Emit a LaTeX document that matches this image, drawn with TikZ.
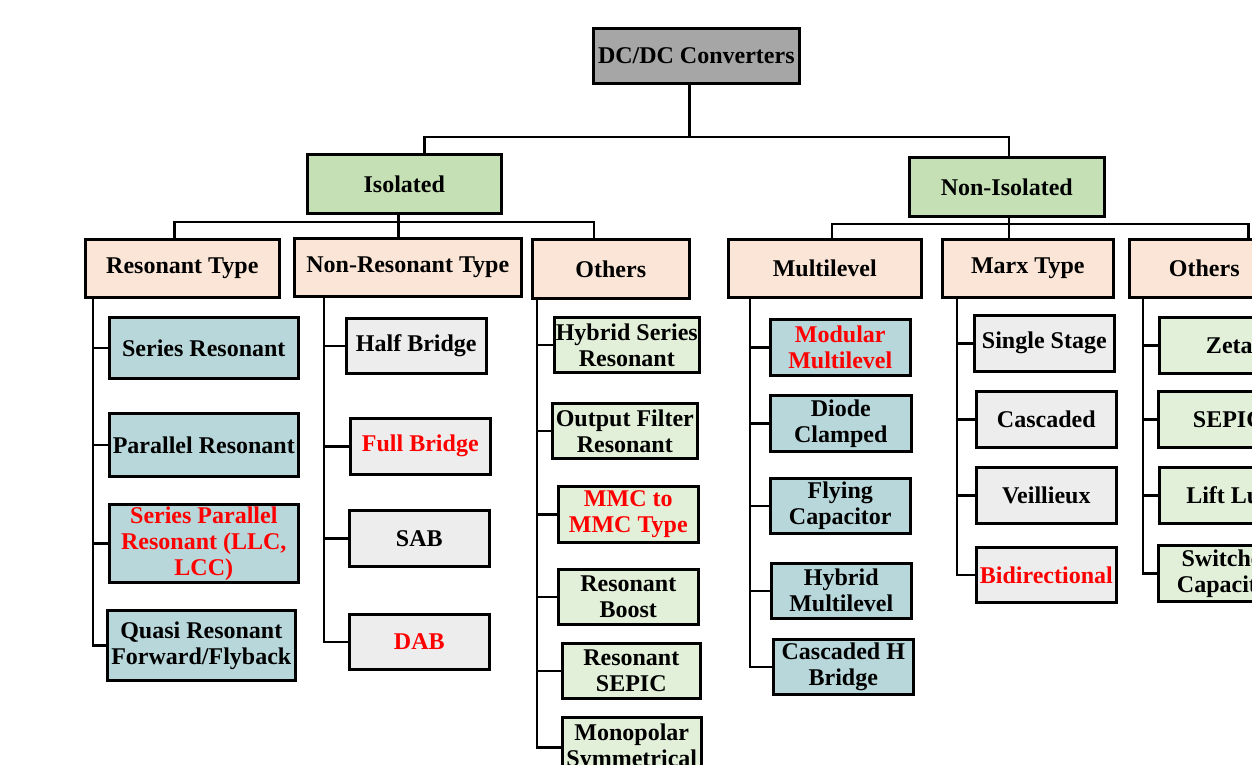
\documentclass[tikz,border=0pt]{standalone}
\usepackage{fontspec}
\setmainfont{Liberation Serif}
\definecolor{cvRoot}{HTML}{A6A6A6}
\definecolor{cvClass}{HTML}{C5E0B4}
\definecolor{cvType}{HTML}{FBE5D6}
\definecolor{cvBlue}{HTML}{B7D7DA}
\definecolor{cvGray}{HTML}{EDEDED}
\definecolor{cvGreen}{HTML}{E2F0D9}
\definecolor{cvHot}{HTML}{FF0000}
\tikzset{
  cvnode/.style={
    draw, line width=2.6pt, inner sep=1pt, align=center, anchor=north west,
    font=\bfseries\fontsize{24}{26}\selectfont
  },
  cvsize/.style 2 args={minimum width=#1pt, minimum height=#2pt},
  cvroot/.style={cvnode, fill=cvRoot},
  cvclass/.style={cvnode, fill=cvClass},
  cvtype/.style={cvnode, fill=cvType},
  cvblue/.style={cvnode, fill=cvBlue},
  cvgray/.style={cvnode, fill=cvGray},
  cvgreen/.style={cvnode, fill=cvGreen},
  hot/.style={text=cvHot},
  cvline/.style={line width=2.6pt}
}
\begin{document}
\begin{tikzpicture}[x=1pt, y=-1pt]
  \useasboundingbox (0,0) rectangle (1252,764);
  \clip (0,0) rectangle (1252,764);

  \node[cvroot, cvsize={206}{55}] (root) at (592,27) {DC/DC Converters};
  \node[cvclass, cvsize={194}{59}] (iso) at (306,153) {Isolated};
  \node[cvclass, cvsize={195}{59}] (noniso) at (908,156) {Non-Isolated};

  \node[cvtype, cvsize={194}{58}] (rt) at (84,238) {Resonant Type};
  \node[cvtype, cvsize={227}{58}] (nrt) at (293,237) {Non-Resonant Type};
  \node[cvtype, cvsize={157}{59}] (oth) at (531,238) {Others};
  \node[cvtype, cvsize={193}{58}] (ml) at (727,238) {Multilevel};
  \node[cvtype, cvsize={171}{58}] (marx) at (941,238) {Marx Type};
  \node[cvtype, cvsize={150}{58}] (oth2) at (1128,238) {Others};

  \node[cvblue, cvsize={189}{61}] (sr) at (108,316) {Series Resonant};
  \node[cvblue, cvsize={189}{63}] (pr) at (108,412) {Parallel Resonant};
  \node[cvblue, hot, cvsize={189}{78}] (spr) at (108,503) {Series Parallel\\Resonant (LLC,\\LCC)};
  \node[cvblue, cvsize={188}{70}] (qr) at (106,609) {Quasi Resonant\\Forward/Flyback};

  \node[cvgray, cvsize={140}{55}] (hb) at (345,317) {Half Bridge};
  \node[cvgray, hot, cvsize={140}{56}] (fb) at (349,417) {Full Bridge};
  \node[cvgray, cvsize={140}{56}] (sab) at (348,509) {SAB};
  \node[cvgray, hot, cvsize={140}{55}] (dab) at (348,613) {DAB};

  \node[cvgreen, cvsize={145}{55}] (hsr) at (553,316) {Hybrid Series\\Resonant};
  \node[cvgreen, cvsize={145}{55}] (ofr) at (551,402) {Output Filter\\Resonant};
  \node[cvgreen, hot, cvsize={140}{56}] (mmc) at (557,485) {MMC to\\MMC Type};
  \node[cvgreen, cvsize={140}{55}] (rb) at (557,568) {Resonant\\Boost};
  \node[cvgreen, cvsize={138}{55}] (rs) at (561,642) {Resonant\\SEPIC};
  \node[cvgreen, cvsize={139}{60}] (ms) at (561,716) {Monopolar\\Symmetrical};

  \node[cvblue, hot, cvsize={140}{56}] (mm) at (769,318) {Modular\\Multilevel};
  \node[cvblue, cvsize={141}{56}] (dc) at (769,394) {Diode\\Clamped};
  \node[cvblue, cvsize={140}{55}] (fc) at (769,477) {Flying\\Capacitor};
  \node[cvblue, cvsize={140}{55}] (hm) at (770,562) {Hybrid\\Multilevel};
  \node[cvblue, cvsize={140}{55}] (chb) at (772,638) {Cascaded H\\Bridge};

  \node[cvgray, cvsize={140}{56}] (ss) at (973,314) {Single Stage};
  \node[cvgray, cvsize={140}{56}] (cas) at (975,390) {Cascaded};
  \node[cvgray, cvsize={140}{56}] (vei) at (975,466) {Veillieux};
  \node[cvgray, hot, cvsize={140}{55}] (bid) at (975,546) {Bidirectional};

  \node[cvgreen, cvsize={140}{56}] (zeta) at (1158,316) {Zeta};
  \node[cvgreen, cvsize={140}{56}] (sep) at (1157,390) {SEPIC};
  \node[cvgreen, cvsize={140}{56}] (luo) at (1158,466) {Lift Luo};
  \node[cvgreen, cvsize={140}{56}] (swc) at (1157,544) {Switched\\Capacitor};

  \path (0,137) coordinate (bar0) (0,222) coordinate (bar1) (0,224) coordinate (bar2);

  \draw[cvline] ([xshift=-7pt]root.south) -- ([xshift=-7pt]root.south |- bar0);
  \draw[cvline] ([xshift=20pt]iso.north) |- ([xshift=2pt]noniso.north |- bar0) -- ([xshift=2pt]noniso.north);

  \draw[cvline] ([xshift=-6pt]iso.south) -- ([xshift=-6pt]iso.south |- nrt.north);
  \draw[cvline] ([xshift=-8pt]rt.north) |- ([xshift=-17pt]oth.north |- bar1) -- ([xshift=-17pt]oth.north);
  \draw[cvline] ([xshift=2pt]noniso.south) -- ([xshift=2pt]noniso.south |- marx.north);
  \draw[cvline] ([xshift=7pt]ml.north) |- ([xshift=44pt]oth2.north |- bar2) -- ([xshift=44pt]oth2.north);

  \foreach \c in {sr,pr,spr,qr} \draw[cvline] ([xshift=9pt]rt.south west) |- (\c.west);
  \foreach \c in {hb,fb,sab,dab} \draw[cvline] ([xshift=31pt]nrt.south west) |- (\c.west);
  \foreach \c in {hsr,ofr,mmc,rb,rs,ms} \draw[cvline] ([xshift=6pt]oth.south west) |- (\c.west);
  \foreach \c in {mm,dc,fc,hm,chb} \draw[cvline] ([xshift=23pt]ml.south west) |- (\c.west);
  \foreach \c in {ss,cas,vei,bid} \draw[cvline] ([xshift=16pt]marx.south west) |- (\c.west);
  \foreach \c in {zeta,sep,luo,swc} \draw[cvline] ([xshift=15pt]oth2.south west) |- (\c.west);
\end{tikzpicture}
\end{document}
